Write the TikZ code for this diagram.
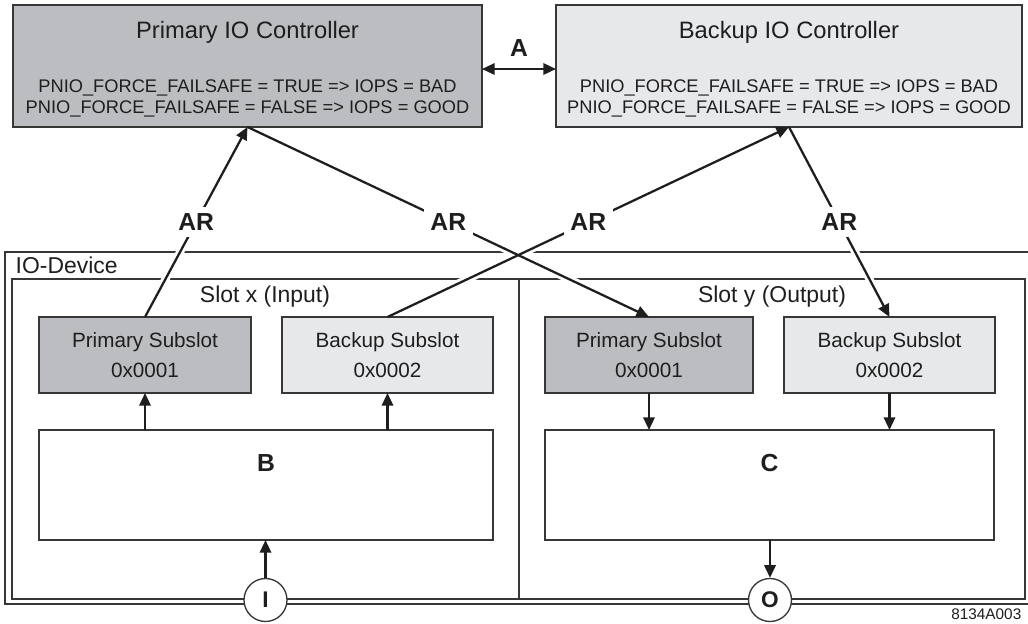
\documentclass[tikz,border=0pt]{standalone}
\usepackage{fontspec}
\setmainfont{Liberation Sans}
\usetikzlibrary{arrows.meta}
\definecolor{darkfill}{RGB}{188,189,192}
\definecolor{lightfill}{RGB}{231,232,234}
\definecolor{edge}{RGB}{55,55,55}
\definecolor{ink}{RGB}{30,30,30}
\begin{document}
\begin{tikzpicture}[x=0.75pt,y=-0.75pt,
  box/.style={draw=edge, line width=1pt, inner sep=0pt, outer sep=0pt},
  ctrl/.style={box, minimum height=91.5pt},
  subbox/.style={box, minimum height=57pt, align=center, font=\fontsize{15.5}{22.5}\selectfont, text=ink},
  bigbox/.style={box, fill=white, minimum height=82.5pt},
  arr/.style={draw=ink, line width=1.7pt, -{Triangle[length=9.5pt,width=8.5pt]}},
  halo/.style={draw=white, line width=6pt, shorten <=16pt, shorten >=16pt},
  arlbl/.style={font=\bfseries\fontsize{18.5}{20}\selectfont, text=ink, fill=white, inner sep=5pt},
  title/.style={font=\fontsize{17.8}{20}\selectfont, text=ink},
  pnio/.style={font=\fontsize{13.7}{15.5}\selectfont, text=ink, align=center},
  slotlbl/.style={font=\fontsize{17.2}{20}\selectfont, text=ink},
  bold/.style={font=\bfseries\fontsize{18.5}{20}\selectfont, text=ink},
  port/.style={circle, draw=edge, line width=1pt, fill=white, minimum size=32.25pt, inner sep=0pt, font=\bfseries\fontsize{17}{20}\selectfont, text=ink},
  frame/.style={draw=edge, line width=0.9pt}
]
\useasboundingbox (0,0) rectangle (1028,624);

% IO-Device frames
\draw[frame] (1040,252) -- (5,252) -- (5,604) -- (1040,604);
\draw[frame] (12,279) rectangle (1025,599);
\draw[frame] (519,279) -- (519,599);
\node[slotlbl, anchor=west] (iod) at (11,265) {IO-Device};
\node[slotlbl] (slx) at (265,297) {Slot x (Input)};
\node[slotlbl] (sly) at (772,297) {Slot y (Output)};

% controllers
\node[ctrl, fill=darkfill, minimum width=351.75pt] (pc) at (247.5,66) {};
\node[ctrl, fill=lightfill, minimum width=349.5pt] (bc) at (789,66) {};
\node[title] (pct) at (247.5,32) {Primary IO Controller};
\node[title] (bct) at (789,32) {Backup IO Controller};
\node[pnio] (pcl1) at (247.5,88) {PNIO\_FORCE\_FAILSAFE = TRUE => IOPS = BAD};
\node[pnio] (pcl2) at (247.5,109) {PNIO\_FORCE\_FAILSAFE = FALSE => IOPS = GOOD};
\node[pnio] (bcl1) at (789,88) {PNIO\_FORCE\_FAILSAFE = TRUE => IOPS = BAD};
\node[pnio] (bcl2) at (789,109) {PNIO\_FORCE\_FAILSAFE = FALSE => IOPS = GOOD};

% A arrow
\draw[draw=ink, line width=1.7pt, {Triangle[length=9.5pt,width=8.5pt]}-{Triangle[length=9.5pt,width=8.5pt]}]
  ([yshift=-2.25pt]pc.east) -- node[bold, above=5pt] (alb) {A} ([yshift=-2.25pt]bc.west);

% subslots
\node[subbox, fill=darkfill, minimum width=159pt] (psx) at (145,355) {Primary Subslot\\0x0001};
\node[subbox, fill=lightfill, minimum width=158.25pt] (bsx) at (387.5,355) {Backup Subslot\\0x0002};
\node[subbox, fill=darkfill, minimum width=156pt] (psy) at (649,355) {Primary Subslot\\0x0001};
\node[subbox, fill=lightfill, minimum width=158.25pt] (bsy) at (889.5,355) {Backup Subslot\\0x0002};

% B and C
\node[bigbox, minimum width=340.5pt] (B) at (266,485) {};
\node[bigbox, minimum width=336.75pt] (C) at (769.5,485) {};
\node[bold] (bl) at (266,463) {B};
\node[bold] (cl) at (769.5,463) {C};

% ports
\node[port] (I) at (265.5,600) {I};
\node[port] (O) at (770,600) {O};

% vertical arrows
\draw[arr] (I) -- (I |- B.south);
\draw[arr] (C.south -| O) -- (O);
\draw[arr] (psx.south |- B.north) -- (psx.south);
\draw[arr] (bsx.south |- B.north) -- (bsx.south);
\draw[arr] (psy.south) -- (psy.south |- C.north);
\draw[arr] (bsy.south) -- (bsy.south |- C.north);

% AR halos
\draw[halo] (psx.north) -- (pc.south);
\draw[halo] (pc.south) -- (psy.north);
\draw[halo] (bsx.north) -- (bc.south);
\draw[halo] (bc.south) -- (bsy.north);

% AR connectors
\draw[arr] (psx.north) -- node[arlbl] (ar1) {AR} (pc.south);
\draw[arr] (pc.south) -- node[arlbl] (ar2) {AR} (psy.north);
\draw[arr] (bsx.north) -- node[arlbl] (ar3) {AR} (bc.south);
\draw[arr] (bc.south) -- node[arlbl] (ar4) {AR} (bsy.north);

\node[anchor=east, font=\fontsize{11.5}{13}\selectfont, text=ink] (code) at (1026,614) {8134A003};
\end{tikzpicture}
\end{document}
